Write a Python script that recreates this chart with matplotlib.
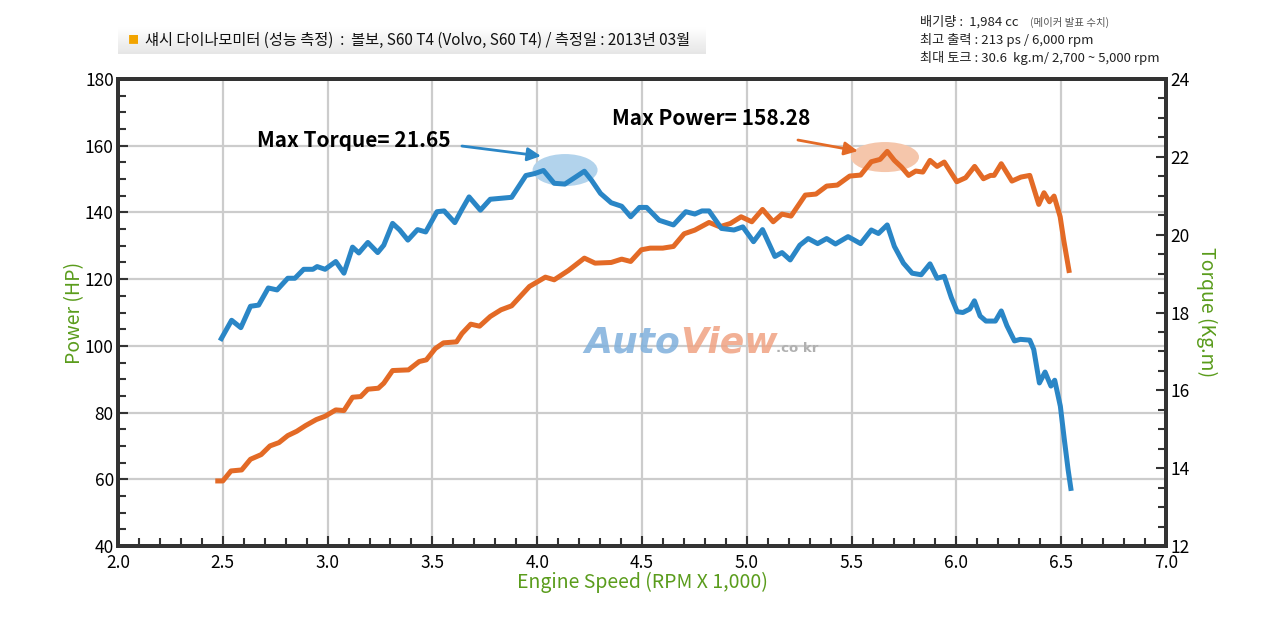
import numpy as np
import matplotlib
matplotlib.use("Agg")
import matplotlib.pyplot as plt
from matplotlib.patches import Ellipse
from matplotlib.ticker import MultipleLocator

plt.rcParams['font.family'] = ['Noto Sans CJK KR', 'DejaVu Sans']
plt.rcParams['font.weight'] = 'medium'

# power curve (HP)
power_rpm = [2.476, 2.50, 2.539, 2.59, 2.632, 2.683, 2.725, 2.768, 2.81, 2.853,
             2.895, 2.946, 2.988, 3.039, 3.078, 3.119, 3.158, 3.192, 3.242, 3.268,
             3.31, 3.386, 3.437, 3.471, 3.514, 3.553, 3.615, 3.641, 3.683, 3.725,
             3.776, 3.827, 3.878, 3.963, 4.039, 4.081, 4.149, 4.225, 4.276, 4.353,
             4.403, 4.446, 4.497, 4.539, 4.599, 4.65, 4.701, 4.752, 4.82, 4.871,
             4.922, 4.973, 5.024, 5.075, 5.126, 5.168, 5.211, 5.279, 5.33, 5.381,
             5.432, 5.491, 5.543, 5.594, 5.636, 5.67, 5.704, 5.738, 5.772, 5.806,
             5.84, 5.874, 5.908, 5.942, 6.002, 6.044, 6.087, 6.129, 6.163, 6.18,
             6.214, 6.265, 6.308, 6.35, 6.393, 6.418, 6.444, 6.466, 6.495, 6.512,
             6.537]
power_hp = [59.5, 59.5, 62.5, 62.8, 66.0, 67.4, 70.0, 71.0, 73.1, 74.4,
            76.1, 77.9, 78.9, 80.8, 80.6, 84.6, 84.8, 87.0, 87.3, 88.8,
            92.6, 92.8, 95.3, 95.8, 99.2, 100.9, 101.2, 103.7, 106.5, 105.9,
            108.8, 110.8, 112.0, 117.8, 120.6, 119.8, 122.6, 126.3, 124.8, 125.0,
            126.0, 125.3, 128.8, 129.3, 129.3, 129.8, 133.6, 134.7, 137.0, 135.7,
            136.7, 138.7, 137.2, 140.9, 137.2, 139.5, 138.9, 145.2, 145.5, 147.9,
            148.2, 150.9, 151.2, 155.2, 155.9, 158.3, 155.6, 153.6, 151.1, 152.4,
            152.1, 155.6, 153.8, 155.1, 149.2, 150.4, 153.8, 150.1, 151.1, 151.1,
            154.6, 149.4, 150.6, 151.1, 142.4, 145.9, 143.2, 144.9, 138.7, 131.7,
            122.6]

# torque curve (kg.m)
torque_rpm = [2.493, 2.542, 2.586, 2.632, 2.671, 2.717, 2.759, 2.81, 2.844, 2.886,
              2.93, 2.95, 2.988, 3.039, 3.078, 3.119, 3.149, 3.192, 3.239, 3.268,
              3.31, 3.344, 3.383, 3.429, 3.468, 3.522, 3.556, 3.607, 3.641, 3.675,
              3.729, 3.776, 3.878, 3.946, 3.988, 4.03, 4.081, 4.132, 4.183, 4.225,
              4.259, 4.302, 4.353, 4.403, 4.446, 4.488, 4.522, 4.582, 4.65, 4.709,
              4.752, 4.786, 4.82, 4.879, 4.939, 4.981, 5.032, 5.075, 5.134, 5.168,
              5.207, 5.253, 5.293, 5.338, 5.381, 5.423, 5.483, 5.543, 5.594, 5.628,
              5.67, 5.704, 5.747, 5.789, 5.832, 5.874, 5.908, 5.942, 5.976, 6.004,
              6.031, 6.064, 6.086, 6.113, 6.141, 6.186, 6.214, 6.241, 6.277, 6.305,
              6.35, 6.369, 6.396, 6.423, 6.451, 6.469, 6.496, 6.515, 6.533, 6.546]
torque_kgm = [17.33, 17.80, 17.61, 18.16, 18.19, 18.63, 18.58, 18.88, 18.88, 19.11,
              19.11, 19.18, 19.11, 19.31, 19.01, 19.68, 19.53, 19.80, 19.54, 19.73,
              20.29, 20.12, 19.86, 20.13, 20.07, 20.59, 20.61, 20.31, 20.65, 20.97,
              20.63, 20.91, 20.96, 21.52, 21.57, 21.65, 21.32, 21.30, 21.48, 21.63,
              21.40, 21.06, 20.82, 20.73, 20.46, 20.70, 20.70, 20.37, 20.25, 20.59,
              20.53, 20.61, 20.61, 20.16, 20.12, 20.20, 19.82, 20.13, 19.44, 19.54,
              19.35, 19.73, 19.90, 19.77, 19.90, 19.76, 19.95, 19.77, 20.12, 20.03,
              20.25, 19.70, 19.27, 19.01, 18.97, 19.25, 18.88, 18.93, 18.38, 18.02,
              18.00, 18.09, 18.30, 17.91, 17.78, 17.78, 18.04, 17.66, 17.27, 17.31,
              17.29, 17.05, 16.19, 16.47, 16.11, 16.26, 15.59, 14.73, 13.96, 13.48]

max_torque = 21.65
max_power = 158.28

header = "섀시 다이나모미터 (성능 측정)  :  볼보, S60 T4 (Volvo, S60 T4) / 측정일 : 2013년 03월"
spec_lines = ["배기량 :  1,984 cc", "최고 출력 : 213 ps / 6,000 rpm",
              "최대 토크 : 30.6  kg.m/ 2,700 ~ 5,000 rpm"]

BLUE = '#2a86c6'
ORANGE = '#e36a26'
GREEN = '#5a9c1c'
SPINE = '#333333'

fig = plt.figure(figsize=(12.8, 6.2), dpi=100)
ax = fig.add_axes([118 / 1280, 74 / 620, 1048 / 1280, 467 / 620])
ax2 = ax.twinx()

ax.set_xlim(2.0, 7.0)
ax.set_ylim(40, 180)
ax2.set_ylim(12, 24)

ax.xaxis.set_major_locator(MultipleLocator(0.5))
ax.xaxis.set_minor_locator(MultipleLocator(0.1))
ax.yaxis.set_major_locator(MultipleLocator(20))
ax.yaxis.set_minor_locator(MultipleLocator(5))
ax2.yaxis.set_major_locator(MultipleLocator(2))
ax2.yaxis.set_minor_locator(MultipleLocator(0.5))
ax.xaxis.set_major_formatter(lambda v, p: f"{v:.1f}")

ax.grid(True, which='major', color='#cccccc', lw=1.6, zorder=0)
ax.set_axisbelow(True)

for a in (ax, ax2):
    for s in a.spines.values():
        s.set_linewidth(2.8)
        s.set_color(SPINE)
    a.tick_params(which='major', direction='in', length=7, width=1.5,
                  color=SPINE, labelsize=12.5, pad=3)
    a.tick_params(which='minor', direction='in', length=6, width=1.5, color=SPINE)
ax.tick_params(axis='y', which='both', right=False)
ax.tick_params(axis='x', pad=6)
ax2.tick_params(axis='y', which='both', left=False)

# highlight ellipses
ax.add_patch(Ellipse((4.133, 152.7), 0.31, 9.6, facecolor='#b2d3ec', edgecolor='none', zorder=2))
ax.add_patch(Ellipse((5.659, 156.6), 0.325, 9.0, facecolor='#f5c6ab', edgecolor='none', zorder=2))

# watermark
fig.text(680 / 1280, 0.432, "Auto", fontsize=26, fontweight='bold', style='italic',
         color='#7fb0dc', ha='right', va='baseline', family='DejaVu Sans', alpha=0.85)
fig.text(680 / 1280, 0.432, "View", fontsize=26, fontweight='bold', style='italic',
         color='#f0a383', ha='left', va='baseline', family='DejaVu Sans', alpha=0.85)
fig.text(776 / 1280, 0.432, ".co kr", fontsize=9.5, fontweight='bold',
         color='#b0b0b0', ha='left', va='baseline', family='DejaVu Sans')

ax.plot(power_rpm, power_hp, color=ORANGE, lw=3.6, solid_joinstyle='round', zorder=4)
ax2.plot(torque_rpm, torque_kgm, color=BLUE, lw=3.6, solid_joinstyle='round', zorder=4)

ax.annotate("", xy=(4.018, 156.9), xytext=(3.641, 159.9),
            arrowprops=dict(arrowstyle='-|>', color=BLUE, lw=2, mutation_scale=20,
                            shrinkA=0, shrinkB=0), zorder=5)
ax.text(2.663, 161.7, f"Max Torque= {max_torque}", fontsize=15, fontweight='bold',
        va='center', ha='left', zorder=5)
ax.annotate("", xy=(5.53, 158.4), xytext=(5.244, 161.7),
            arrowprops=dict(arrowstyle='-|>', color=ORANGE, lw=2, mutation_scale=20,
                            shrinkA=0, shrinkB=0), zorder=5)
ax.text(4.357, 168.3, f"Max Power= {max_power}", fontsize=15, fontweight='bold',
        va='center', ha='left', zorder=5)

ax.set_xlabel("Engine Speed (RPM X 1,000)", color=GREEN, fontsize=14, labelpad=0)
ax.set_ylabel("Power (HP)", color=GREEN, fontsize=14, labelpad=0)
ax2.set_ylabel("Torque (Kg.m)", color=GREEN, fontsize=14, rotation=270, labelpad=20)

# header bar with soft gradient
hax = fig.add_axes([118 / 1280, (620 - 54) / 620, (706 - 118) / 1280, 27 / 620])
grad = np.linspace(1.0, 0.9, 50).reshape(-1, 1)
hax.imshow(np.repeat(grad, 2, axis=1), cmap='gray', vmin=0, vmax=1, aspect='auto',
           extent=(0, 1, 0, 1))
hax.axis('off')
fig.text(128 / 1280, (620 - 40) / 620, "■", color='#f2a400', fontsize=8, va='center')
fig.text(145 / 1280, (620 - 40) / 620, header, fontsize=11, va='center', color='#111111')

# spec box top right
ys = [22, 40, 58]
for line, y in zip(spec_lines, ys):
    fig.text(920 / 1280, (620 - y) / 620, line, fontsize=9.5, va='center', color='#222222')
fig.text(1030 / 1280, (620 - 22) / 620, "(메이커 발표 수치)", fontsize=7.5, va='center',
         color='#555555', fontweight='normal')

fig.savefig("out.png", dpi=100)
